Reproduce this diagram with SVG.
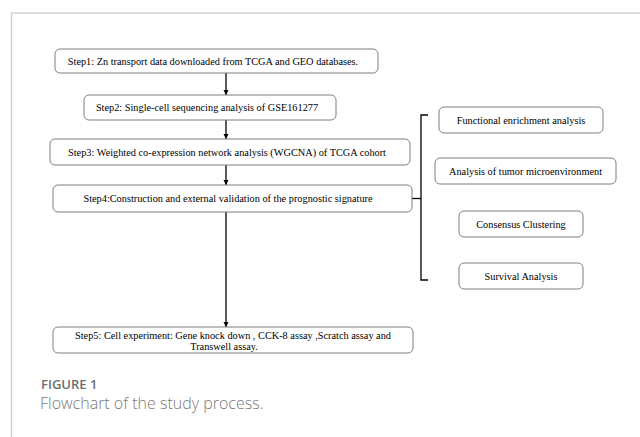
<svg xmlns="http://www.w3.org/2000/svg" width="640" height="437" viewBox="0 0 640 437">
  <defs>
    <style>
      .box { fill: #ffffff; stroke: #7f7f7f; stroke-width: 1; }
      .t { font-family: "Liberation Serif", "Times New Roman", serif; font-size: 10.3px; fill: #000000; text-anchor: middle; }
      .conn { stroke: #000000; stroke-width: 1.3; fill: none; }
      .cap1 { font-family: "Open Sans", "Liberation Sans", sans-serif; font-size: 13px; font-weight: 600; fill: #6d6e70; }
      .cap2 { font-family: "Open Sans", "Liberation Sans", sans-serif; font-size: 16px; font-weight: 300; fill: #7a7a7a; }
    </style>
    <marker id="ah" markerWidth="6" markerHeight="6" refX="5" refY="3" orient="auto" markerUnits="userSpaceOnUse">
      <path d="M0,0.5 L5,3 L0,5.5 Z" fill="#000000"/>
    </marker>
  </defs>
  <rect width="640" height="437" fill="#ffffff"/>
  <path d="M11.5,437 L11.5,13 L640,13" fill="none" stroke="#d3d3d3" stroke-width="1.5"/>

  <g id="connectors">
    <line class="conn" x1="226" y1="73" x2="226" y2="95" marker-end="url(#ah)"/>
    <line class="conn" x1="226" y1="120" x2="226" y2="139" marker-end="url(#ah)"/>
    <line class="conn" x1="226" y1="165" x2="226" y2="185" marker-end="url(#ah)"/>
    <line class="conn" x1="226" y1="212" x2="226" y2="327" marker-end="url(#ah)"/>
    <line class="conn" x1="412" y1="198.5" x2="421" y2="198.5"/>
    <path class="conn" d="M428,115 L421,115 L421,280 L428,280"/>
  </g>

  <g id="step1">
    <rect class="box" x="55" y="49" width="323" height="24" rx="5"/>
    <text class="t" x="213" y="64.5">Step1: Zn transport data downloaded from TCGA and GEO databases.</text>
  </g>
  <g id="step2">
    <rect class="box" x="84" y="95" width="252" height="25" rx="5"/>
    <text class="t" x="207" y="111">Step2: Single-cell sequencing analysis of GSE161277</text>
  </g>
  <g id="step3">
    <rect class="box" x="50" y="139" width="360" height="26" rx="5"/>
    <text class="t" x="227" y="155.5">Step3: Weighted co-expression network analysis (WGCNA) of TCGA cohort</text>
  </g>
  <g id="step4">
    <rect class="box" x="53" y="185" width="359" height="27" rx="5"/>
    <text class="t" x="228" y="202">Step4:Construction and external validation of the prognostic signature</text>
  </g>
  <g id="step5">
    <rect class="box" x="53" y="327" width="360" height="26" rx="5"/>
    <text class="t" x="233" y="338.5">Step5: Cell experiment: Gene knock down , CCK-8 assay ,Scratch assay and</text>
    <text class="t" x="224" y="349.5">Transwell assay.</text>
  </g>
  <g id="functional">
    <rect class="box" x="439" y="107" width="164" height="26" rx="5"/>
    <text class="t" x="521" y="123.5">Functional enrichment analysis</text>
  </g>
  <g id="tme">
    <rect class="box" x="435" y="158" width="181" height="26" rx="5"/>
    <text class="t" x="525.5" y="174.5">Analysis of tumor microenvironment</text>
  </g>
  <g id="consensus">
    <rect class="box" x="459" y="211" width="124" height="26" rx="5"/>
    <text class="t" x="521" y="227.5">Consensus Clustering</text>
  </g>
  <g id="survival">
    <rect class="box" x="459" y="263" width="124" height="26" rx="5"/>
    <text class="t" x="521" y="279.5">Survival Analysis</text>
  </g>

  <text class="cap1" x="41" y="389">FIGURE 1</text>
  <text class="cap2" x="40" y="409">Flowchart of the study process.</text>
</svg>
